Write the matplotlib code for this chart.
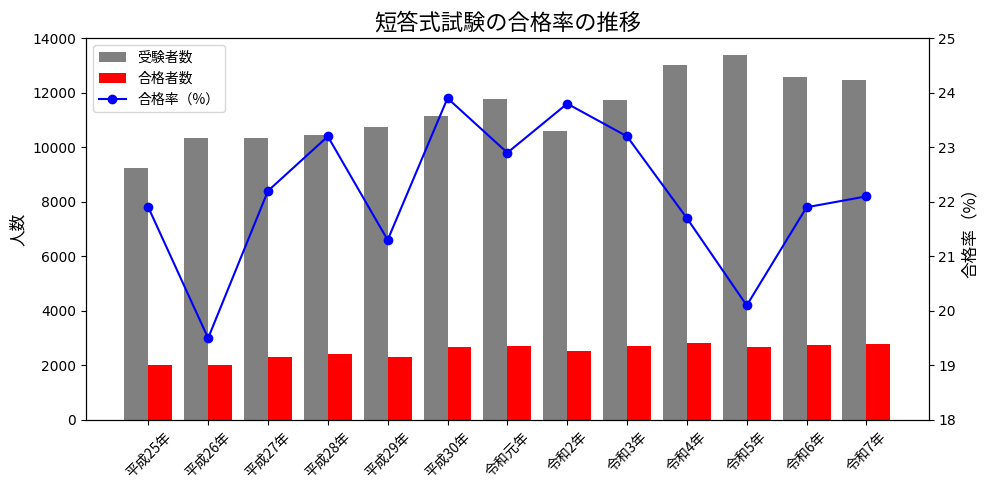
import numpy as np
import matplotlib
matplotlib.use("Agg")
import matplotlib.pyplot as plt

jp = ['Noto Sans CJK JP', 'DejaVu Sans']

# 年度と人数・合格率
years = ["平成25年", "平成26年", "平成27年", "平成28年", "平成29年", "平成30年",
         "令和元年", "令和2年", "令和3年", "令和4年", "令和5年", "令和6年", "令和7年"]
examinees = [9224, 10347, 10334, 10442, 10743, 11136, 11780, 10608, 11717, 13004, 13372, 12569, 12450]
passers = [2017, 2018, 2294, 2426, 2299, 2661, 2696, 2529, 2723, 2829, 2685, 2747, 2770]
rates = [21.9, 19.5, 22.2, 23.2, 21.3, 23.9, 22.9, 23.8, 23.2, 21.7, 20.1, 21.9, 22.1]

x = np.arange(len(years))
w = 0.4

fig, ax1 = plt.subplots(figsize=(9.89, 4.9), dpi=100)

b1 = ax1.bar(x - w/2, examinees, w, color='gray', label='受験者数')
b2 = ax1.bar(x + w/2, passers, w, color='red', label='合格者数')
ax1.set_ylabel('人数', fontsize=12, family=jp)
ax1.set_ylim(0, 14000)
ax1.set_xticks(x)
ax1.set_xticklabels(years, rotation=45, family=jp)

ax2 = ax1.twinx()
l1, = ax2.plot(x, rates, color='blue', marker='o', label='合格率（%）')
ax2.set_ylabel('合格率（%）', fontsize=12, family=jp)
ax2.set_ylim(18, 25)

ax1.legend([b1, b2, l1], ['受験者数', '合格者数', '合格率（%）'], loc='upper left',
           prop={'family': jp})
plt.title('短答式試験の合格率の推移', fontsize=16, family=jp)
fig.subplots_adjust(left=0.087, right=0.939, top=0.922, bottom=0.143)
plt.savefig('out.png')
